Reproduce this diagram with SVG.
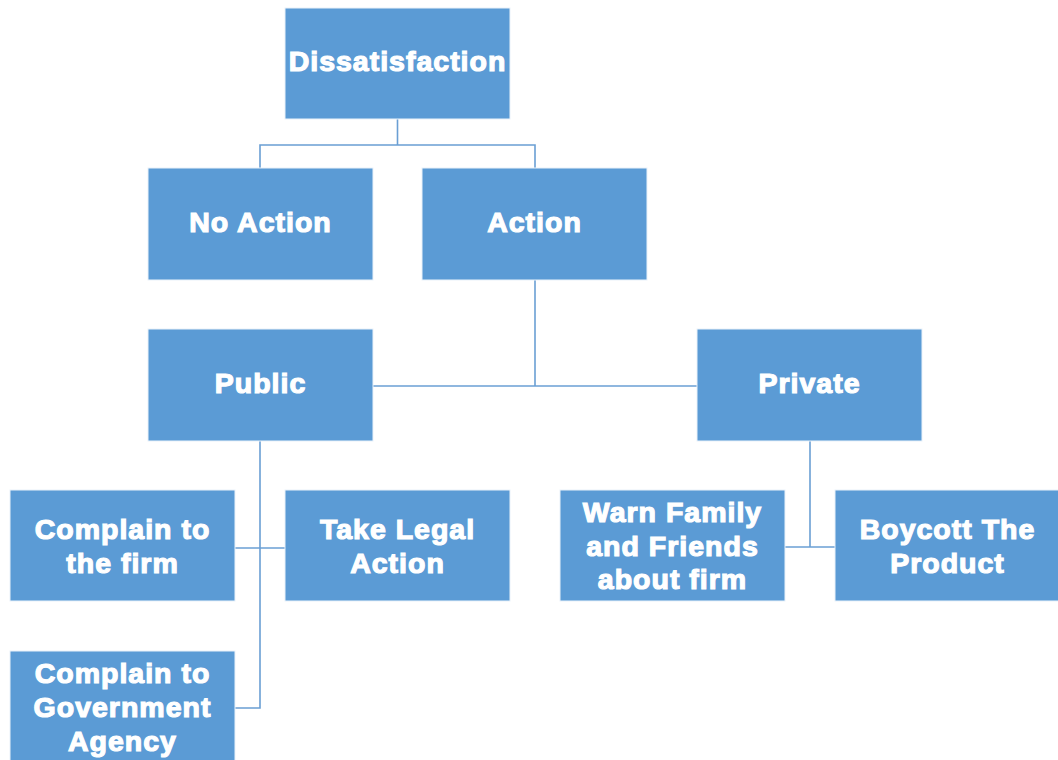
<svg xmlns="http://www.w3.org/2000/svg" width="1058" height="760" viewBox="0 0 1058 760">
  <style>
    .box { fill: #5B9BD5; stroke: #EAF2FA; stroke-width: 1; }
    .lbl { font-family: "Liberation Sans", Arial, sans-serif; font-weight: bold; font-size: 28.5px; letter-spacing: 1px; fill: #FFFFFF; stroke: #FFFFFF; stroke-width: 1.2; text-anchor: middle; }
    .wire { fill: none; stroke: #6A9FD4; stroke-width: 1.6; }
  </style>
  <rect width="1058" height="760" fill="#FFFFFF"/>

  <g id="connectors">
    <polyline class="wire" points="260,168 260,145 535,145 535,168"/>
    <line class="wire" x1="397.5" y1="119" x2="397.5" y2="145"/>
    <line class="wire" x1="535" y1="280" x2="535" y2="386"/>
    <line class="wire" x1="373" y1="386" x2="697" y2="386"/>
    <polyline class="wire" points="260,441 260,708 235,708"/>
    <line class="wire" x1="235" y1="548" x2="285" y2="548"/>
    <line class="wire" x1="810" y1="441" x2="810" y2="547"/>
    <line class="wire" x1="785" y1="547" x2="835" y2="547"/>
  </g>

  <g id="dissatisfaction">
    <rect class="box" x="285" y="8" width="225" height="111"/>
    <text class="lbl" x="397.5" y="71">Dissatisfaction</text>
  </g>
  <g id="no-action">
    <rect class="box" x="148" y="168" width="225" height="112"/>
    <text class="lbl" x="260.5" y="232">No Action</text>
  </g>
  <g id="action">
    <rect class="box" x="422" y="168" width="225" height="112"/>
    <text class="lbl" x="534.5" y="232">Action</text>
  </g>
  <g id="public">
    <rect class="box" x="148" y="329" width="225" height="112"/>
    <text class="lbl" x="260.5" y="393">Public</text>
  </g>
  <g id="private">
    <rect class="box" x="697" y="329" width="225" height="112"/>
    <text class="lbl" x="809.5" y="393">Private</text>
  </g>
  <g id="complain-firm">
    <rect class="box" x="10" y="490" width="225" height="111"/>
    <text class="lbl" x="122.5" y="539">Complain to</text>
    <text class="lbl" x="122.5" y="573">the firm</text>
  </g>
  <g id="legal-action">
    <rect class="box" x="285" y="490" width="225" height="111"/>
    <text class="lbl" x="397.5" y="539">Take Legal</text>
    <text class="lbl" x="397.5" y="573">Action</text>
  </g>
  <g id="warn-family">
    <rect class="box" x="560" y="490" width="225" height="111"/>
    <text class="lbl" x="672.5" y="522">Warn Family</text>
    <text class="lbl" x="672.5" y="556">and Friends</text>
    <text class="lbl" x="672.5" y="589">about firm</text>
  </g>
  <g id="boycott">
    <rect class="box" x="835" y="490" width="225" height="111"/>
    <text class="lbl" x="947.5" y="539">Boycott The</text>
    <text class="lbl" x="947.5" y="573">Product</text>
  </g>
  <g id="complain-government">
    <rect class="box" x="10" y="651" width="225" height="112"/>
    <text class="lbl" x="122.5" y="683">Complain to</text>
    <text class="lbl" x="122.5" y="717">Government</text>
    <text class="lbl" x="122.5" y="751">Agency</text>
  </g>
</svg>
